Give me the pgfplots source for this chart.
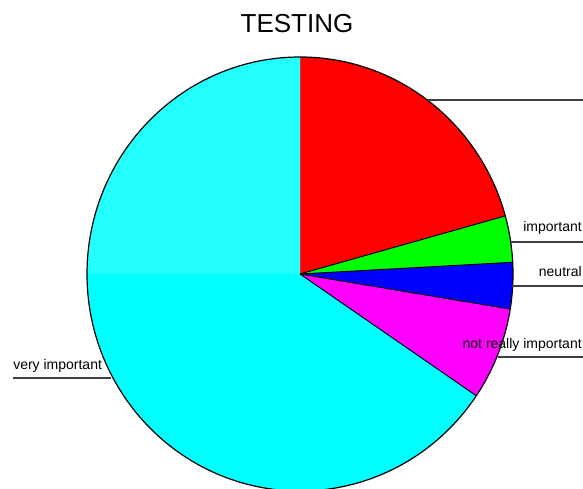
\documentclass[border=0pt]{standalone}
\usepackage{pgfplots}
\pgfplotsset{compat=1.18}
\usepackage{fontspec}
\setmainfont{Liberation Sans}
\definecolor{pcyan}{RGB}{0,255,255}
\definecolor{pcyanl}{RGB}{35,255,255}
\definecolor{pmag}{RGB}{255,0,255}
\definecolor{pred}{RGB}{255,0,0}
\definecolor{pgreen}{RGB}{0,255,0}
\definecolor{pblue}{RGB}{0,0,255}
\begin{document}
\begin{tikzpicture}
% slice values: red, green (important), blue (neutral), magenta (not really important), cyan (very important)
\def\vA{6}\def\vB{1}\def\vC{1}\def\vD{2}\def\vE{19}
\pgfmathsetmacro\tot{\vA+\vB+\vC+\vD+\vE}
\pgfmathsetmacro\aA{90}
\pgfmathsetmacro\aB{\aA-360*\vA/\tot}
\pgfmathsetmacro\aC{\aB-360*\vB/\tot}
\pgfmathsetmacro\aD{\aC-360*\vC/\tot}
\pgfmathsetmacro\aE{\aD-360*\vD/\tot}
\pgfmathsetmacro\aF{\aE-360*\vE/\tot}
\tikzset{pie/.style={x radius=159.75pt,y radius=162.75pt}}
\begin{axis}[x=0.75pt,y=0.75pt,xmin=0,xmax=583,ymin=0,ymax=489,hide axis,clip=true]
\addplot[draw=none] coordinates {(0,0) (583,489)};
\def\C{(axis cs:300,215)}
\fill[pred] \C -- ++(\aA:159.75pt and 162.75pt) arc[pie,start angle=\aA,end angle=\aB] -- cycle;
\fill[pgreen] \C -- ++(\aB:159.75pt and 162.75pt) arc[pie,start angle=\aB,end angle=\aC] -- cycle;
\fill[pblue] \C -- ++(\aC:159.75pt and 162.75pt) arc[pie,start angle=\aC,end angle=\aD] -- cycle;
\fill[pmag] \C -- ++(\aD:159.75pt and 162.75pt) arc[pie,start angle=\aD,end angle=\aE] -- cycle;
\fill[pcyan] \C -- ++(\aE:159.75pt and 162.75pt) arc[pie,start angle=\aE,end angle=\aF] -- cycle;
\fill[pcyanl] \C -- ++(90:159.75pt and 162.75pt) arc[pie,start angle=90,end angle=180] -- cycle;
\draw[black,line width=0.7pt] \C -- ++(\aB:159.75pt and 162.75pt);
\draw[black,line width=0.7pt] \C -- ++(\aC:159.75pt and 162.75pt);
\draw[black,line width=0.7pt] \C -- ++(\aD:159.75pt and 162.75pt);
\draw[black,line width=0.7pt] \C -- ++(\aE:159.75pt and 162.75pt);
\draw[black,line width=0.9pt] \C ellipse[pie];
% leader lines
\draw[black!75,line width=0.8pt] (axis cs:428,389) -- (axis cs:583,389);
\draw[black!75,line width=0.8pt] (axis cs:511,247) -- (axis cs:583,247);
\draw[black!75,line width=0.8pt] (axis cs:512,203) -- (axis cs:583,203);
\draw[black!75,line width=0.8pt] (axis cs:498,132) -- (axis cs:583,132);
\draw[black!75,line width=0.8pt] (axis cs:13,111) -- (axis cs:111,111);
\node[anchor=base east,inner sep=0pt,font=\fontsize{10.5pt}{12pt}\selectfont] at (axis cs:582,257) {important};
\node[anchor=base east,inner sep=0pt,font=\fontsize{10.5pt}{12pt}\selectfont] at (axis cs:582,212) {neutral};
\node[anchor=base east,inner sep=0pt,font=\fontsize{10.5pt}{12pt}\selectfont] at (axis cs:582,140) {not really important};
\node[anchor=base west,inner sep=0pt,font=\fontsize{10.5pt}{12pt}\selectfont] at (axis cs:13,119) {very important};
\node[anchor=base,inner sep=0pt,font=\fontsize{19.5pt}{22pt}\selectfont] at (axis cs:297,456) {TESTING};
\end{axis}
\end{tikzpicture}
\end{document}
